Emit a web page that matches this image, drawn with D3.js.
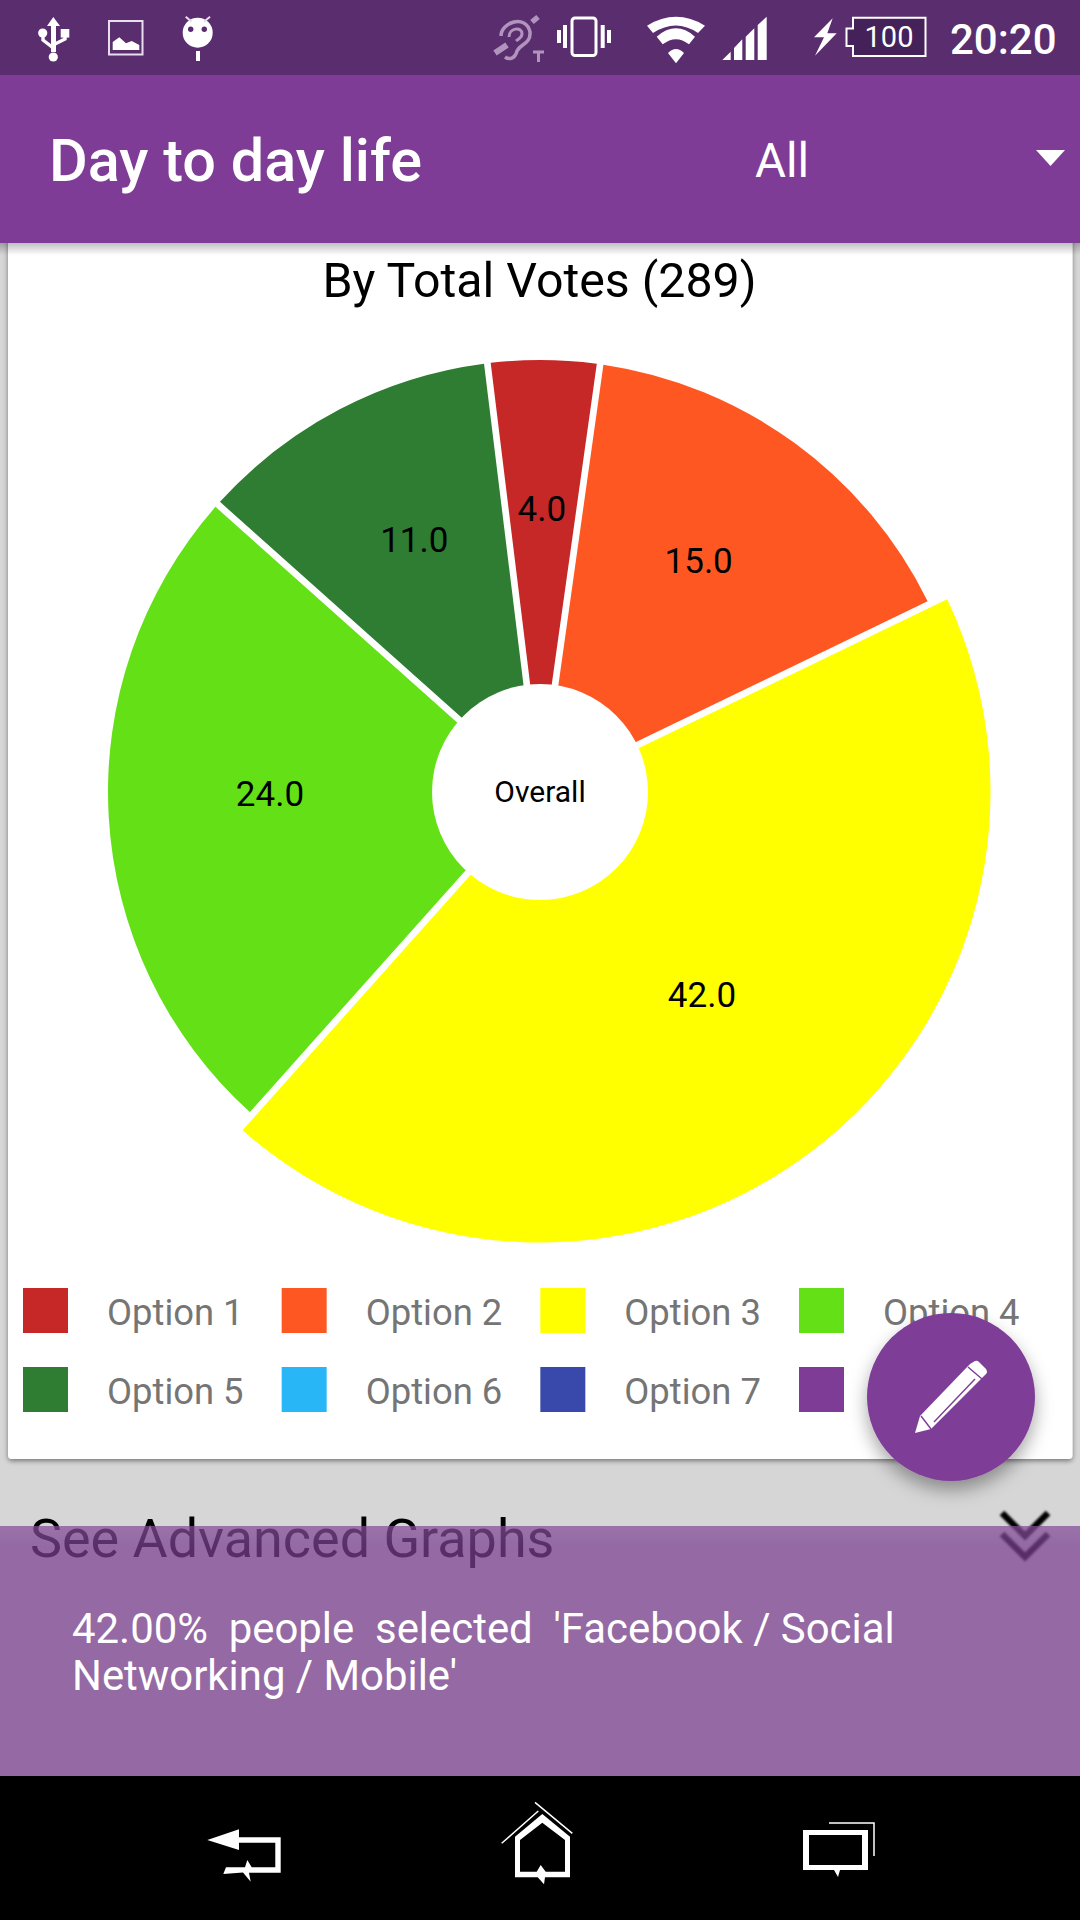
<!DOCTYPE html>
<html>
<head>
<meta charset="utf-8">
<script src="https://cdn.jsdelivr.net/npm/d3@7/dist/d3.min.js"></script>
<style>
  html, body { margin: 0; padding: 0; background: #d6d6d6; }
  svg { display: block; }
  text { font-family: Roboto, sans-serif; white-space: pre; }
</style>
</head>
<body>
<svg id="screen" width="1080" height="1920" viewBox="0 0 1080 1920"></svg>
<script>
// Poll results
const sliceNames = ["Option 1", "Option 2", "Option 3", "Option 4", "Option 5"];
const sliceValues = [4, 15, 42, 24, 11];
const sliceColors = ["#c62828", "#ff5722", "#ffff00", "#64e016", "#2e7d32"];
const selectedSlice = "Option 3";

// Legend entries
const legendNames = ["Option 1", "Option 2", "Option 3", "Option 4", "Option 5", "Option 6", "Option 7", "Option 8"];
const legendColors = ["#c62828", "#ff5722", "#ffff00", "#64e016", "#2e7d32", "#29b6f6", "#3949ab", "#7e3c96"];

const pageTitle = "Day to day life";
const filterLabel = "All";
const chartTitle = "By Total Votes (289)";
const holeLabel = "Overall";
const advancedLabel = "See Advanced Graphs";
const messageLines = ["42.00%  people  selected  'Facebook / Social", "Networking / Mobile'"];

const PURPLE = "#7e3c96";
const STATUS_BG = "#5a2d6e";
const svg = d3.select("#screen");
const defs = svg.append("defs");

function shadow(id, dy, blur, alpha) {
  const f = defs.append("filter").attr("id", id)
    .attr("x", "-30%").attr("y", "-30%").attr("width", "160%").attr("height", "170%");
  f.append("feDropShadow").attr("dx", 0).attr("dy", dy).attr("stdDeviation", blur)
    .attr("flood-color", "#000").attr("flood-opacity", alpha);
}
shadow("cardShadow", 2, 2.5, 0.45);
shadow("fabShadow", 9, 9, 0.35);

defs.append("filter").attr("id", "soft").attr("x", "-20%").attr("y", "-20%").attr("width", "140%").attr("height", "140%")
  .append("feGaussianBlur").attr("stdDeviation", 0.9);
defs.append("filter").attr("id", "softGlyph").attr("x", "-20%").attr("y", "-20%").attr("width", "140%").attr("height", "140%")
  .append("feGaussianBlur").attr("stdDeviation", 0.6);

function fade(id, color, from) {
  const g = defs.append("linearGradient").attr("id", id)
    .attr("x1", 0).attr("y1", 0).attr("x2", 0).attr("y2", 1);
  g.append("stop").attr("offset", 0).attr("stop-color", color).attr("stop-opacity", from);
  g.append("stop").attr("offset", 1).attr("stop-color", color).attr("stop-opacity", 0);
}
fade("headerFade", "#000", 0.25);
fade("panelFade", "#fff", 0.06);

// Page background and card
svg.append("rect").attr("width", 1080).attr("height", 1920).attr("fill", "#d6d6d6");
svg.append("rect").attr("x", 8).attr("y", 200).attr("width", 1064.5).attr("height", 1259)
  .attr("rx", 4).attr("fill", "#fff").attr("filter", "url(#cardShadow)");

// Chart title
svg.append("text").attr("x", 539.5).attr("y", 297).attr("text-anchor", "middle")
  .attr("font-size", 48.3).attr("fill", "#000").text(chartTitle);

// Donut
const cx = 540, cy = 792, outerR = 432, innerR = 108, selectedExtra = 18.5;
const startDeg = -7;
const pie = d3.pie().sort(null).value(d => d.value)
  .startAngle(startDeg * Math.PI / 180)
  .endAngle((startDeg + 360) * Math.PI / 180);
const slices = pie(sliceNames.map((name, i) => ({ name, value: sliceValues[i], color: sliceColors[i] })));
const arc = d3.arc().innerRadius(innerR * 0.4).padAngle(0.0155).padRadius(outerR)
  .outerRadius(d => d.data.name === selectedSlice ? outerR + selectedExtra : outerR);
const labelArc = d3.arc().innerRadius(innerR).outerRadius(outerR);

const donut = svg.append("g").attr("transform", `translate(${cx},${cy})`);
donut.selectAll("path.slice").data(slices).join("path").attr("class", "slice")
  .attr("d", arc).attr("fill", d => d.data.color);
donut.append("circle").attr("r", innerR).attr("fill", "#fff");
donut.append("text").attr("y", -1).attr("dy", "0.35em").attr("text-anchor", "middle")
  .attr("font-size", 30).attr("fill", "#000").text(holeLabel);
donut.selectAll("text.value").data(slices).join("text").attr("class", "value")
  .attr("text-anchor", "middle").attr("font-size", 35).attr("fill", "#000")
  .attr("x", d => labelArc.centroid(d)[0] - 0.5)
  .attr("y", d => labelArc.centroid(d)[1] - 1)
  .text(d => d3.format(".1f")(d.value));

// Legend
const legendX = d3.scalePoint().domain([0, 1, 2, 3]).range([23, 799]);
const legendY = d3.scalePoint().domain([0, 1]).range([1288, 1367]);
const legend = svg.append("g").selectAll("g").data(legendNames).join("g")
  .attr("transform", (d, i) => `translate(${legendX(i % 4)},${legendY(Math.floor(i / 4))})`);
legend.append("rect").attr("width", 45).attr("height", 45).attr("fill", (d, i) => legendColors[i]);
legend.append("text").attr("x", 84).attr("y", 37).attr("font-size", 36.4).attr("fill", "#757575").text(d => d);

// Collapsed section label underneath the message panel
svg.append("text").attr("x", 30).attr("y", 1557).attr("font-size", 53.9).attr("fill", "#000").text(advancedLabel);
svg.append("path").attr("d", "M1002 1513 L1025 1536 L1048 1513 M1002 1534 L1025 1557 L1048 1534")
  .attr("fill", "none").attr("stroke", "#000").attr("stroke-width", 6.5).attr("filter", "url(#soft)");

// Message panel
svg.append("rect").attr("x", 0).attr("y", 1526).attr("width", 1080).attr("height", 250)
  .attr("fill", "#7a3f90").attr("opacity", 0.72);
svg.append("rect").attr("x", 0).attr("y", 1526).attr("width", 1080).attr("height", 22)
  .attr("fill", "url(#panelFade)");
svg.append("g").selectAll("text").data(messageLines).join("text")
  .attr("x", 72).attr("y", (d, i) => 1643 + i * 47)
  .attr("font-size", 41.9).attr("fill", "#fff").text(d => d);

// Floating edit button
svg.append("circle").attr("cx", 951).attr("cy", 1397).attr("r", 84).attr("fill", PURPLE)
  .attr("filter", "url(#fabShadow)");
const pencil = svg.append("g");
pencil.append("path").attr("fill", "#fff")
  .attr("d", "M915 1433 L920 1416 L970 1364 L975 1361 Q977 1360 979 1362 L986 1369 Q988 1372 986 1374 L982 1378 L931 1429 Z");
pencil.append("path").attr("fill", "none").attr("stroke", PURPLE).attr("stroke-width", 1.4)
  .attr("d", "M921 1416 L931 1429 M968 1367 L982 1379 M934 1422 L975 1379");

// Top bars
svg.append("rect").attr("y", 243).attr("width", 1080).attr("height", 12).attr("fill", "url(#headerFade)");
svg.append("rect").attr("y", 0).attr("width", 1080).attr("height", 75).attr("fill", STATUS_BG);
svg.append("rect").attr("y", 75).attr("width", 1080).attr("height", 168).attr("fill", PURPLE);
svg.append("text").attr("x", 49).attr("y", 180.5).attr("font-size", 59.4).attr("font-weight", 500)
  .attr("fill", "#fff").text(pageTitle);
svg.append("text").attr("x", 755).attr("y", 177).attr("font-size", 47.5).attr("fill", "#fff").text(filterLabel);
svg.append("path").attr("d", "M1036 150 H1065 L1050.5 166 Z").attr("fill", "#fff");

// Status bar glyphs
const status = svg.append("g").attr("fill", "#fff");
// usb
status.append("path").attr("d", "M53.3 17 L60 26 H56 V52 H51 V26 H47 Z");
status.append("circle").attr("cx", 53.3).attr("cy", 57).attr("r", 4.6);
status.append("circle").attr("cx", 42.7).attr("cy", 33).attr("r", 4.6);
status.append("rect").attr("x", 60.7).attr("y", 29).attr("width", 8.6).attr("height", 8.6);
status.append("path").attr("fill", "none").attr("stroke", "#fff").attr("stroke-width", 3.4)
  .attr("d", "M43 36 V40 L52 47 M65 37 V39 L55 44");
// picture
status.append("rect").attr("x", 109).attr("y", 21).attr("width", 33.5).attr("height", 33.5)
  .attr("fill", "none").attr("stroke", "#e8dfec").attr("stroke-width", 2);
status.append("path").attr("d", "M112.7 50 V42 L119.3 37.3 L126 43.3 L131.7 41 L139.3 45 V50 Z");
// android
status.append("circle").attr("cx", 197.7).attr("cy", 32.7).attr("r", 15);
status.append("path").attr("fill", "none").attr("stroke", "#e8dfec").attr("stroke-width", 2)
  .attr("d", "M185.7 16.7 L191.7 21.7 M210 16.7 L204 21.7");
status.append("rect").attr("x", 196).attr("y", 51).attr("width", 4).attr("height", 10);
status.append("circle").attr("cx", 190.7).attr("cy", 29.3).attr("r", 2.7).attr("fill", STATUS_BG);
status.append("circle").attr("cx", 204.3).attr("cy", 29.3).attr("r", 2.7).attr("fill", STATUS_BG);
// hearing aid
const hearing = status.append("g").attr("fill", "none").attr("stroke", "#b194bd").attr("filter", "url(#softGlyph)");
hearing.append("path").attr("stroke-width", 3.5)
  .attr("d", "M501 36 C501 22 526 14 530 32 C531 44 520 44 517 51 C515 59 509 60 505 57");
hearing.append("path").attr("stroke-width", 3)
  .attr("d", "M509 37 C509 28 522 26 522 34 C522 38 518 39 516 41");
hearing.append("path").attr("stroke-width", 6).attr("d", "M495 53 L507 45");
hearing.append("path").attr("stroke-width", 5.5).attr("d", "M532 22 L538 17");
hearing.append("path").attr("stroke-width", 3).attr("d", "M533 52 H544 M538.5 52 V62");
// vibrate
status.append("rect").attr("x", 572).attr("y", 18).attr("width", 24).attr("height", 37.5).attr("rx", 3)
  .attr("fill", "none").attr("stroke", "#fff").attr("stroke-width", 3);
status.append("path").attr("d", "M557 30 H561 V43 H557 Z M563 25 H567 V48 H563 Z M600.7 25 H604.7 V48 H600.7 Z M607 30 H611 V43 H607 Z");
// wifi
status.append("path").attr("d", "M647 25.7 Q676 8 705 25.7 L698 33 Q676 18 653 33 Z M656.7 36.7 Q676 20 695 36.7 L689 44.3 Q676 34 662.7 44.3 Z M668 53 Q676 45 684 53 L676 63.3 Z");
// signal
status.append("path").attr("d", "M766.7 16.7 V60 H757.7 V25 Z M754.3 28.3 V60 H745.7 V36.7 Z M742.3 39.3 V60 H734 V48 Z M730.7 51.7 V60 H722.3 Z");
// charging bolt
status.append("path").attr("d", "M832.7 18.3 L814 37.3 H824 L815 55.7 L836.7 33.3 H827.3 Z");
// battery
status.append("path").attr("fill", "#45215a").attr("stroke", "#fff").attr("stroke-width", 2)
  .attr("d", "M853 17.7 H925.5 V56 H853 V46 H846.5 V28.5 H853 Z");
status.append("text").attr("x", 889).attr("y", 46.7).attr("text-anchor", "middle").attr("font-size", 29).text("100");
status.append("text").attr("x", 950).attr("y", 53.5).attr("font-size", 42).attr("font-weight", 500).text("20:20");

// Navigation bar
svg.append("rect").attr("y", 1776).attr("width", 1080).attr("height", 144).attr("fill", "#000");
const nav = svg.append("g").attr("fill", "#fff");
nav.append("path").attr("d", "M207.3 1840 L239 1829.3 V1837.3 H280.7 V1872.7 H249 L250.7 1881.7 L243 1872.5 L223.3 1874 L226 1867.3 H245 L247.3 1860 L251.7 1867.3 H275.3 V1842.7 H239 V1850 Z");
nav.append("path").attr("fill-rule", "evenodd").attr("d", "M542.3 1814 L570 1836.7 V1877.3 H545 L544 1884.3 L537.7 1877.3 H515 V1836.7 Z M542.3 1822.7 L520 1840 V1871.7 H536.7 L540.7 1865 L545.7 1871.7 H565 V1840 Z");
nav.append("path").attr("fill", "none").attr("stroke", "#fff").attr("stroke-width", 1.5).attr("d", "M501.7 1843.3 L538.3 1811 M535 1802.3 L572.3 1833.3");
nav.append("path").attr("fill-rule", "evenodd").attr("d", "M803 1830 H868 V1870 H840 L838 1877 L834 1870 H803 Z M809 1835 V1865 H862 V1835 Z");
nav.append("path").attr("fill", "none").attr("stroke", "#fff").attr("stroke-width", 1.5).attr("d", "M829 1823 H874 V1856");
</script>
</body>
</html>
